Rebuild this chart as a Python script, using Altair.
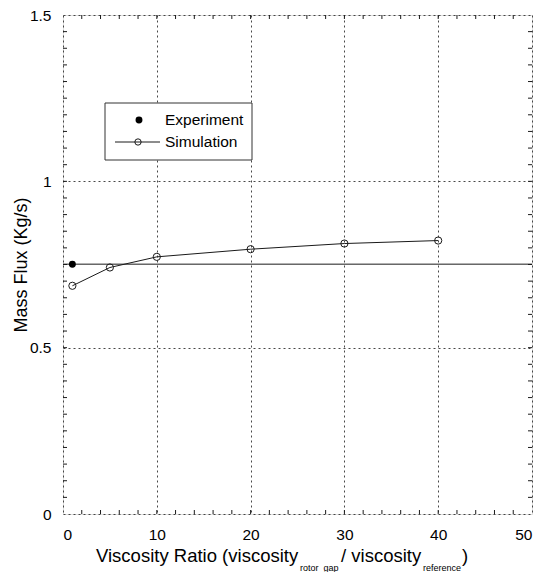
import altair as alt
import pandas as pd

# ---- data ----
sim_x = [1, 5, 10, 20, 30, 40]
sim_y = [0.686, 0.741, 0.773, 0.796, 0.813, 0.822]
exp_x = [1]
exp_y = [0.751]
series_names = ["Experiment", "Simulation"]

x_major = [0, 10, 20, 30, 40, 50]
y_major = [0, 0.5, 1, 1.5]
x_minor = [2, 4, 6, 8, 10, 12, 14, 16, 18, 20, 22, 24, 26, 28, 30, 32, 34, 36, 38, 40, 42, 44, 46, 48]
y_minor = [0.05, 0.1, 0.15, 0.2, 0.25, 0.3, 0.35, 0.4, 0.45, 0.5, 0.55, 0.6, 0.65, 0.7,
           0.75, 0.8, 0.85, 0.9, 0.95, 1.0, 1.05, 1.1, 1.15, 1.2, 1.25, 1.3, 1.35, 1.4, 1.45]

y_title = "Mass Flux (Kg/s)"
x_title_parts = ["Viscosity Ratio (viscosity", "rotor_gap", "/ viscosity", "reference", ")"]

W, H = 469, 499
FONT = "Liberation Sans"
INK = "#1a1a1a"

xs = alt.Scale(domain=[0, 50], nice=False, zero=False)
ys = alt.Scale(domain=[0, 1.5], nice=False, zero=False)

sim = pd.DataFrame({"x": sim_x, "y": sim_y})
exp = pd.DataFrame({"x": exp_x, "y": exp_y})
xt = pd.DataFrame({"x": x_minor})
yt = pd.DataFrame({"y": y_minor})
one = pd.DataFrame({"a": [0]})

x_axis = alt.Axis(values=x_major, grid=True, ticks=False, domain=False, title=None,
                  labelFontSize=15.5, labelPadding=13, labelColor="black",
                  gridDash=[2, 3], gridColor="#333", gridWidth=0.9, format="d")
y_axis = alt.Axis(values=y_major, grid=True, ticks=False, domain=False, title=y_title,
                  labelFontSize=15.5, labelPadding=12, labelColor="black",
                  titleFontSize=18, titleFontWeight="normal", titleColor="black",
                  titleX=-42, titleY=H / 2, titleAngle=270, titleAlign="center",
                  titleBaseline="middle",
                  gridDash=[2, 3], gridColor="#333", gridWidth=0.9,
                  labelExpr="datum.value")

base_grid = alt.Chart(sim).mark_point(opacity=0).encode(
    x=alt.X("x:Q", scale=xs, axis=x_axis),
    y=alt.Y("y:Q", scale=ys, axis=y_axis),
)

exp_rule = alt.Chart(exp).mark_rule(color=INK, strokeWidth=1).encode(
    y=alt.Y("y:Q", scale=ys)
)

sim_line = alt.Chart(sim).mark_line(color=INK, strokeWidth=1).encode(
    x=alt.X("x:Q", scale=xs), y=alt.Y("y:Q", scale=ys)
)

sim_pts = alt.Chart(sim).mark_point(shape="circle", size=52, filled=False,
                                    color=INK, strokeWidth=1, opacity=1).encode(
    x=alt.X("x:Q", scale=xs), y=alt.Y("y:Q", scale=ys)
)
exp_pts = alt.Chart(exp).mark_point(shape="circle", size=48, filled=True,
                                    color="#000", opacity=1).encode(
    x=alt.X("x:Q", scale=xs), y=alt.Y("y:Q", scale=ys)
)

tick_len = 4
xt_bot = alt.Chart(xt).mark_rule(color=INK).encode(
    x=alt.X("x:Q", scale=xs), y=alt.value(H), y2=alt.value(H - tick_len))
xt_top = alt.Chart(xt).mark_rule(color=INK).encode(
    x=alt.X("x:Q", scale=xs), y=alt.value(0), y2=alt.value(tick_len))
yt_left = alt.Chart(yt).mark_rule(color=INK).encode(
    y=alt.Y("y:Q", scale=ys), x=alt.value(0), x2=alt.value(tick_len))
yt_right = alt.Chart(yt).mark_rule(color=INK).encode(
    y=alt.Y("y:Q", scale=ys), x=alt.value(W), x2=alt.value(W - tick_len))

# ---- legend box (drawn as marks) ----
leg_box = alt.Chart(one).mark_rect(fill="white", stroke="#333", strokeWidth=1).encode(
    x=alt.value(42), x2=alt.value(189), y=alt.value(88), y2=alt.value(145))
leg_dot = alt.Chart(one).mark_point(shape="circle", size=48, filled=True,
                                    color="#000", opacity=1).encode(
    x=alt.value(76), y=alt.value(105))
leg_line = alt.Chart(one).mark_rule(color=INK, strokeWidth=1).encode(
    x=alt.value(52), x2=alt.value(97), y=alt.value(127))
leg_circ = alt.Chart(one).mark_point(shape="circle", size=40, filled=False,
                                     color=INK, strokeWidth=1, opacity=1).encode(
    x=alt.value(75), y=alt.value(127))
leg_txt = [
    alt.Chart(pd.DataFrame({"t": [series_names[i]]})).mark_text(
        align="left", baseline="middle", fontSize=15.5, font=FONT, color="black"
    ).encode(text="t:N", x=alt.value(102), y=alt.value(yy))
    for i, yy in enumerate([105, 127])
]

# ---- x-axis title with subscripts ----
title_layers = []
main_fs, sub_fs = 18.5, 9
main_y, sub_y = 541, 553
xpos = [33, 237, 278, 360, 399]
for i, txt in enumerate(x_title_parts):
    sub = i in (1, 3)
    title_layers.append(
        alt.Chart(pd.DataFrame({"t": [txt]})).mark_text(
            align="left", baseline="middle", fontSize=sub_fs if sub else main_fs,
            font=FONT, color="black"
        ).encode(text="t:N", x=alt.value(xpos[i]), y=alt.value(sub_y if sub else main_y))
    )

chart = alt.layer(
    base_grid, exp_rule, sim_line, sim_pts, exp_pts,
    xt_bot, xt_top, yt_left, yt_right,
    leg_box, leg_dot, leg_line, leg_circ, *leg_txt, *title_layers
).properties(
    width=W, height=H,
    padding={"left": 55, "top": 7, "right": 4, "bottom": 58},
    autosize=alt.AutoSizeParams(type="none"),
).configure_view(
    stroke=INK, strokeWidth=1.2
).configure(
    font=FONT
).configure_axis(
    labelFont=FONT, titleFont=FONT
)

chart.save("out.html", embed_options={"renderer": "svg", "actions": False})
